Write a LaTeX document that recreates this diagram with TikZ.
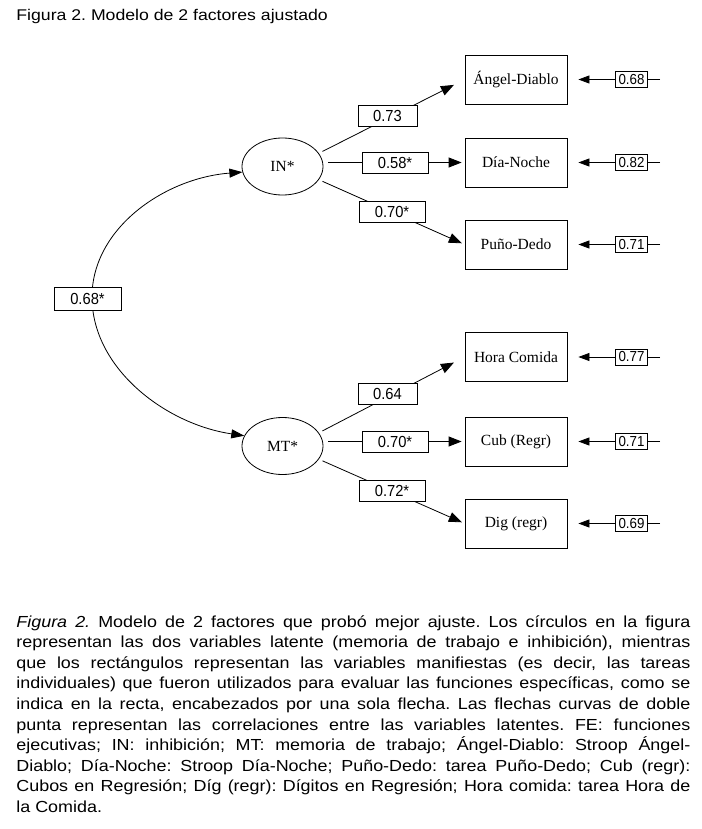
\documentclass[tikz,border=0pt]{standalone}
\usepackage{fontspec}
\setmainfont{Liberation Serif}
\newfontfamily\capfont[FakeStretch=1.12]{Liberation Sans}
\newfontfamily\titlefont[FakeStretch=1.14]{Liberation Sans}
\newfontfamily\numfont[FakeStretch=0.92]{Liberation Sans}
\usetikzlibrary{shapes.geometric,arrows.meta}
\frenchspacing
\begin{document}
\frenchspacing
\begin{tikzpicture}[x=1pt,y=-1pt,
  line width=0.8pt,
  latent/.style={draw, ellipse, minimum width=81pt, minimum height=57pt, inner sep=0pt, font=\fontsize{15.5}{17}\selectfont},
  manifest/.style={draw, rectangle, minimum width=102pt, minimum height=49pt, inner sep=0pt, font=\fontsize{15.5}{17}\selectfont},
  lbl/.style={draw, fill=white, rectangle, inner xsep=0pt, inner ysep=0pt, minimum height=21pt, font=\numfont\fontsize{16}{18}\selectfont},
  errlbl/.style={draw, fill=white, rectangle, inner xsep=3pt, inner ysep=0pt, minimum height=16pt, font=\numfont\fontsize{14.5}{16}\selectfont},
  arr/.style={-{Triangle[length=13pt,width=10pt]}},
  arrtwo/.style={{Triangle[length=13pt,width=9pt]}-{Triangle[length=13pt,width=9pt]}},
  errarr/.style={-{Triangle[length=11pt,width=8pt]}},
  capline/.style={anchor=base west, inner sep=0pt, font=\capfont\fontsize{16}{18}\selectfont}
]
\useasboundingbox (0,0) rectangle (701,829);

% title
\node[anchor=base west, inner sep=0pt, font=\titlefont\fontsize{15.5}{17}\selectfont] (title) at (16,21) {Figura 2. Modelo de 2 factores ajustado};

% latent variables
\node[latent] (IN) at (282.5,166.5) {IN*};
\node[latent] (MT) at (282.5,446) {MT*};

% manifest variables
\node[manifest] (AD) at (516,79.5) {Ángel-Diablo};
\node[manifest] (DN) at (516,162.5) {Día-Noche};
\node[manifest] (PD) at (516,244.5) {Puño-Dedo};
\node[manifest] (HC) at (516,357) {Hora Comida};
\node[manifest] (CR) at (516,441.5) {Cub (Regr)};
\node[manifest] (DR) at (516,523.5) {Dig (regr)};

% loadings
\draw[arr, shorten <=4pt, shorten >=12pt] (IN.20) -- (AD.west);
\draw[arr, shorten <=5pt, shorten >=3pt] (IN.east |- DN.west) -- (DN.west);
\draw[arr, shorten <=4pt, shorten >=3pt] (IN.-20) -- (PD.west);
\draw[arr, shorten <=4pt, shorten >=12pt] (MT.20) -- (HC.west);
\draw[arr, shorten <=5pt, shorten >=3pt] (MT.east |- CR.west) -- (CR.west);
\draw[arr, shorten <=4pt, shorten >=3pt] (MT.-20) -- (DR.west);

\node[lbl, minimum width=59pt] (l1) at (387.5,115.5) {0.73};
\node[lbl, minimum width=66pt] (l2) at (395,162.5) {0.58*};
\node[lbl, minimum width=66pt] (l3) at (392,211.5) {0.70*};
\node[lbl, minimum width=59pt] (l4) at (387.5,394) {0.64};
\node[lbl, minimum width=66pt] (l5) at (395,441.5) {0.70*};
\node[lbl, minimum width=66pt] (l6) at (392,491) {0.72*};

% correlation
\coordinate (cc) at (92,297);
\draw[arrtwo] (IN.188) .. controls (165,178) and (92,228) .. (cc)
  .. controls (92,368) and (165,424) .. (MT.165);
\node[lbl, minimum width=67pt, minimum height=23pt] (r) at (87.5,298.5) {0.68*};

% error terms
\foreach \b/\v/\n in {AD/0.68/e1, DN/0.82/e2, PD/0.71/e3, HC/0.77/e4, CR/0.71/e5, DR/0.69/e6}{
  \node[errlbl] (\n) at (\b.east -| 631.5,0) {\v};
  \coordinate (\n r) at (\b.east -| 660,0);
  \draw (\n r) -- (\n.east);
  \draw[errarr, shorten >=11pt] (\n.west) -- (\b.east);
}

% caption
\node[capline] (c1) at (16,627) {\makebox[674pt][s]{\textit{Figura 2.} Modelo de 2 factores que probó mejor ajuste. Los círculos en la figura}};
\node[capline] (c2) at (16,647.6) {\makebox[674pt][s]{representan las dos variables latente (memoria de trabajo e inhibición), mientras}};
\node[capline] (c3) at (16,668.2) {\makebox[674pt][s]{que los rectángulos representan las variables manifiestas (es decir, las tareas}};
\node[capline] (c4) at (16,688.8) {\makebox[674pt][s]{individuales) que fueron utilizados para evaluar las funciones específicas, como se}};
\node[capline] (c5) at (16,709.4) {\makebox[674pt][s]{indica en la recta, encabezados por una sola flecha. Las flechas curvas de doble}};
\node[capline] (c6) at (16,730) {\makebox[674pt][s]{punta representan las correlaciones entre las variables latentes. FE: funciones}};
\node[capline] (c7) at (16,750.6) {\makebox[674pt][s]{ejecutivas; IN: inhibición; MT: memoria de trabajo; Ángel-Diablo: Stroop Ángel-}};
\node[capline] (c8) at (16,771.2) {\makebox[674pt][s]{Diablo; Día-Noche: Stroop Día-Noche; Puño-Dedo: tarea Puño-Dedo; Cub (regr):}};
\node[capline] (c9) at (16,791.8) {\makebox[674pt][s]{Cubos en Regresión; Díg (regr): Dígitos en Regresión; Hora comida: tarea Hora de}};
\node[capline] (c10) at (16,812.4) {la Comida.};
\end{tikzpicture}
\end{document}
